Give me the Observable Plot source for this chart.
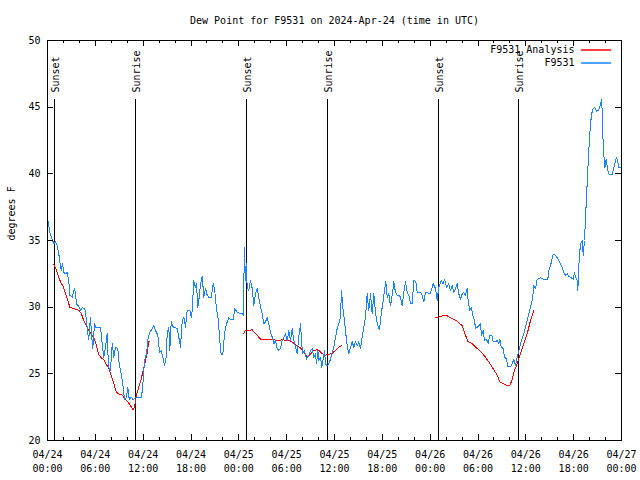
<!DOCTYPE html>
<html><head><meta charset="utf-8">
<script src="https://cdn.jsdelivr.net/npm/d3@7"></script>
<script src="https://cdn.jsdelivr.net/npm/@observablehq/plot@0.6"></script>
<style>body{margin:0;background:#fff} svg{display:block}</style>
</head><body><div id="chart"></div>
<script>
const title = "Dew Point for F9531 on 2024-Apr-24 (time in UTC)";
const yLabel = "degrees F";
const startTime = "2024-04-24T00:00:00Z";
const endTime = "2024-04-27T00:00:00Z";
const yTicks = [20, 25, 30, 35, 40, 45, 50];
const seriesNames = ["F9531 Analysis", "F9531"];
const seriesColors = ["#ff0000", "#1685ff"];
const sunLabels = ["Sunset", "Sunrise", "Sunset", "Sunrise", "Sunset", "Sunrise"];
const sunHours = [0.92, 11.08, 24.96, 35.16, 49.08, 59.12];

// F9531 observations: hours since start, dew point (F)
const obsHours = [0.04,0.29,0.59,0.79,1.0,1.22,1.42,1.54,1.72,1.88,2.04,2.26,2.47,2.67,2.8,3.1,3.3,3.42,3.64,3.93,4.14,4.35,4.68,4.89,5.06,5.18,5.39,5.52,5.68,5.9,6.06,6.65,6.86,7.06,7.28,7.49,7.65,7.9,8.12,8.32,8.53,8.82,8.99,9.24,9.5,9.66,9.91,10.07,10.25,10.5,10.75,11.04,11.79,12.0,12.17,12.42,12.63,12.83,13.13,13.33,13.55,13.84,14.05,14.26,14.46,14.68,14.89,15.01,15.22,15.34,15.52,15.77,16.27,16.47,16.68,16.9,17.1,17.31,17.52,17.85,18.03,18.15,18.35,18.53,18.69,18.85,19.03,19.19,19.41,19.61,19.82,20.03,20.23,20.53,20.79,20.95,21.2,21.41,21.61,21.79,21.99,22.2,22.45,22.74,22.95,23.29,23.49,23.8,24.12,24.42,24.55,24.71,24.8,24.92,25.05,25.25,25.46,25.68,25.88,26.09,26.3,26.5,26.72,26.93,27.13,27.35,27.56,27.76,27.97,28.19,28.39,28.6,28.81,29.01,29.23,29.44,29.64,29.85,30.07,30.27,30.48,30.69,30.9,31.11,31.32,31.52,31.74,31.86,31.99,32.24,32.49,32.78,32.99,33.2,33.4,33.62,33.74,33.91,34.03,34.24,34.41,34.58,34.75,34.87,35.09,35.29,35.5,35.71,35.91,36.13,36.34,36.54,36.75,36.88,37.04,37.25,37.42,37.59,37.79,38.01,38.22,38.42,38.63,38.85,39.05,39.26,39.47,39.68,39.89,40.1,40.3,40.52,40.73,40.93,41.14,41.36,41.64,41.86,42.11,42.27,42.44,42.61,42.81,43.02,43.24,43.44,43.65,43.87,44.07,44.28,44.49,44.69,44.91,45.12,45.32,45.53,45.75,45.95,46.2,46.37,46.79,47.0,47.2,47.42,47.83,48.04,48.38,48.67,48.88,49.08,49.38,49.63,49.8,50.05,50.34,50.55,50.76,50.96,51.18,51.39,51.59,51.8,52.02,52.22,52.43,52.65,52.77,52.97,53.15,53.35,53.56,53.69,53.9,54.1,54.31,54.44,54.65,54.82,55.07,55.28,55.48,55.73,55.91,56.16,56.41,56.61,56.74,56.91,57.16,57.33,57.58,57.74,58.08,58.29,58.49,58.7,58.92,59.12,59.33,59.75,60.17,60.59,60.84,61.0,61.21,61.43,61.84,62.25,62.76,62.88,63.09,63.43,63.72,64.14,64.35,64.56,64.76,64.98,65.19,65.39,65.6,65.94,66.11,66.23,66.44,66.52,66.69,66.86,67.07,67.2,67.36,67.49,67.61,67.77,67.99,68.2,68.36,68.61,68.86,69.15,69.37,69.53,69.62,69.78,69.91,70.08,70.28,70.46,70.83,71.04,71.25,71.37,71.54,71.67,72.0];
const obsValues = [36.55,35.6,35.1,34.75,34.9,34.6,34.0,33.4,32.75,33.3,32.6,32.5,32.6,32.0,30.9,30.75,31.25,31.4,30.25,30.05,29.75,29.95,29.9,29.0,28.0,27.6,29.25,28.0,26.9,28.75,28.5,28.5,27.25,26.25,27.0,28.0,25.5,25.25,27.25,26.25,27.0,26.9,25.75,25.0,24.0,23.05,23.25,24.0,23.1,23.25,23.05,23.25,23.2,24.5,26.0,26.5,27.75,28.1,28.4,28.6,28.25,27.9,26.6,26.75,26.25,25.6,26.25,28.0,28.5,26.75,28.9,28.5,28.4,27.75,27.0,29.0,29.25,28.5,29.75,29.75,29.25,29.75,32.0,31.5,31.75,30.0,30.75,31.75,32.3,30.75,31.4,30.9,30.75,30.75,31.75,31.4,29.9,29.1,27.5,26.45,26.45,28.0,28.75,29.2,29.05,29.1,29.9,29.6,29.55,29.55,29.4,34.5,32.0,33.25,31.5,31.25,32.0,31.4,30.1,31.0,31.4,30.75,30.0,29.5,28.75,28.9,29.25,28.75,28.1,27.75,27.25,27.5,26.9,26.75,26.9,27.5,27.75,28.0,27.5,28.25,27.5,28.4,27.5,27.0,26.5,27.75,28.75,27.5,26.5,26.75,26.1,26.4,26.75,26.9,26.25,26.5,25.75,26.75,26.0,26.25,25.5,26.1,26.75,25.75,25.6,25.75,26.1,26.6,27.0,27.75,28.4,28.75,29.25,31.25,30.0,29.0,28.0,27.1,26.5,27.0,27.4,27.0,27.4,27.1,27.4,26.9,27.75,28.5,29.25,31.0,29.75,31.0,29.5,31.0,29.6,28.75,28.3,29.5,30.5,31.25,31.9,30.75,31.0,30.1,30.9,31.9,31.1,30.9,30.9,30.75,30.1,31.1,31.9,31.1,30.9,30.25,30.25,32.0,31.95,31.1,31.1,30.9,30.4,31.1,31.05,31.05,31.75,31.4,30.5,31.5,32.0,31.75,32.1,31.5,31.75,31.25,31.6,31.1,31.4,31.75,31.0,30.6,31.0,31.1,30.9,31.4,30.4,29.75,30.0,29.4,29.0,28.4,28.5,28.6,28.75,27.9,28.25,27.5,27.6,27.25,27.9,27.9,27.4,27.4,27.5,27.25,27.6,27.0,26.9,26.25,26.1,25.55,25.55,25.75,26.1,25.6,26.25,26.75,27.25,28.0,29.0,30.0,30.6,31.6,31.4,32.1,32.2,32.1,32.1,32.75,33.1,33.95,33.9,33.5,33.25,33.0,32.6,32.4,32.5,32.3,32.25,32.1,32.6,32.25,32.0,31.25,33.6,34.75,35.0,33.9,35.0,36.75,38.25,40.25,42.75,44.25,44.8,45.0,44.7,44.8,45.25,45.6,43.25,41.5,40.45,41.1,40.25,39.95,39.95,40.5,40.9,41.25,40.9,40.5,40.45];

// F9531 Analysis: hours since start, dew point (F); null marks a gap
const anaHours = [0.79,1.13,1.42,1.72,1.97,2.26,2.55,2.8,3.3,3.93,4.23,4.48,4.77,5.06,5.39,5.81,6.15,6.43,6.74,7.06,7.4,7.69,7.99,8.32,8.66,8.94,9.37,9.78,10.07,10.41,10.75,10.95,11.16,11.45,11.75,12.0,12.29,12.51,12.71,12.83,13.0,24.62,24.84,25.25,25.68,25.97,26.3,26.72,27.13,27.56,28.19,28.81,29.44,30.27,30.9,31.32,31.74,32.15,32.58,32.99,33.4,33.83,34.16,34.46,34.87,35.29,35.71,36.13,36.54,36.88,37.0,48.67,49.08,49.71,50.14,50.55,50.96,51.39,52.02,52.22,52.43,52.72,53.27,53.9,54.53,54.94,55.57,55.98,56.41,56.74,57.24,57.66,57.99,58.29,58.58,58.92,59.33,59.75,60.17,60.59,61.0];
const anaValues = [33.2,32.75,32.2,31.8,31.55,31.0,30.5,30.0,29.9,29.75,29.55,29.1,28.75,28.4,28.05,27.7,27.1,26.45,26.2,26.05,25.7,25.4,24.9,24.25,23.6,23.5,23.4,23.1,22.9,22.6,22.3,22.6,23.4,24.0,24.6,25.25,26.0,26.6,27.4,27.45,null,28.05,28.25,28.25,28.3,28.1,27.9,27.6,27.55,27.6,27.6,27.5,27.55,27.5,27.3,27.1,26.95,26.6,26.25,26.5,26.75,26.8,26.7,26.5,26.4,26.45,26.55,26.75,27.0,27.1,null,29.2,29.25,29.4,29.35,29.2,29.1,28.95,28.6,28.25,27.9,27.45,27.25,26.9,26.55,26.25,25.7,25.3,24.9,24.4,24.25,24.1,24.1,24.6,25.25,25.75,26.5,27.25,28.0,29.0,29.75];

const t0 = new Date(startTime), t1 = new Date(endTime);
const at = h => new Date(t0.getTime() + h * 3600e3);
const obs = obsHours.map((h, i) => ({t: at(h), v: obsValues[i]}));
const ana = anaHours.map((h, i) => ({t: at(h), v: anaValues[i]}));
const sun = sunHours.map((h, i) => ({t: at(h), label: sunLabels[i]}));

const W = 640, H = 480, mL = 47, mR = 19, mT = 40, mB = 40;
const iW = W - mL - mR, iH = H - mT - mB;
const majorX = d3.utcHour.every(6).range(t0, new Date(+t1 + 1));
const minorX = d3.utcHour.every(2).range(t0, new Date(+t1 + 1)).filter(d => d.getUTCHours() % 6 !== 0);
const font = "'DejaVu Sans Mono', monospace";
const lineShape = {draw(context, l) { context.moveTo(0, 0); context.lineTo(0, -l); }};

const chart = Plot.plot({
  width: W, height: H, marginLeft: mL, marginRight: mR, marginTop: mT, marginBottom: mB,
  style: {fontFamily: font, fontSize: "10px", background: "#fff", color: "#000"},
  x: {type: "utc", domain: [t0, t1]},
  y: {domain: [20, 50]},
  marks: [
    // sunrise / sunset markers
    Plot.ruleX(sun, {x: "t", insetTop: 59, stroke: "#000", shapeRendering: "crispEdges"}),
    Plot.text(sun, {x: "t", frameAnchor: "top", dy: 52, dx: 1, rotate: -90, textAnchor: "start", lineAnchor: "middle", text: "label", fill: "#000"}),
    // data
    Plot.line(ana, {x: "t", y: "v", stroke: seriesColors[0], strokeWidth: 1, shapeRendering: "crispEdges"}),
    Plot.line(obs, {x: "t", y: "v", stroke: seriesColors[1], strokeWidth: 1, shapeRendering: "crispEdges"}),
    // ticks (inward)
    Plot.tickX(majorX, {x: d => d, insetTop: iH - 6, stroke: "#000", shapeRendering: "crispEdges"}),
    Plot.tickX(majorX, {x: d => d, insetBottom: iH - 6, stroke: "#000", shapeRendering: "crispEdges"}),
    Plot.tickX(minorX, {x: d => d, insetTop: iH - 3, stroke: "#000", shapeRendering: "crispEdges"}),
    Plot.tickX(minorX, {x: d => d, insetBottom: iH - 3, stroke: "#000", shapeRendering: "crispEdges"}),
    Plot.tickY(yTicks, {y: d => d, insetRight: iW - 6, stroke: "#000", shapeRendering: "crispEdges"}),
    Plot.tickY(yTicks, {y: d => d, insetLeft: iW - 6, stroke: "#000", shapeRendering: "crispEdges"}),
    Plot.frame({stroke: "#000", shapeRendering: "crispEdges"}),
    // axes labels
    Plot.axisX(majorX, {anchor: "bottom", tickSize: 0, tickPadding: 8, tickFormat: d3.utcFormat("%m/%d\n%H:%M"), lineHeight: 1.4, label: null, fill: "#000"}),
    Plot.axisY(yTicks, {anchor: "left", tickSize: 0, tickPadding: 7, label: null, fill: "#000"}),
    Plot.text([yLabel], {frameAnchor: "left", dx: -36, rotate: -90, fill: "#000"}),
    Plot.text([title], {frameAnchor: "top", dy: -20, lineAnchor: "middle", fill: "#000"}),
    // legend
    Plot.text([seriesNames[0]], {frameAnchor: "top-right", dx: -47, dy: 9, textAnchor: "end", lineAnchor: "middle", fill: "#000"}),
    Plot.text([seriesNames[1]], {frameAnchor: "top-right", dx: -47, dy: 22, textAnchor: "end", lineAnchor: "middle", fill: "#000"}),
    Plot.vector([0], {frameAnchor: "top-right", dx: -40, dy: 9.5, length: 29, rotate: 90, anchor: "start", shape: lineShape, stroke: seriesColors[0]}),
    Plot.vector([0], {frameAnchor: "top-right", dx: -40, dy: 22.5, length: 29, rotate: 90, anchor: "start", shape: lineShape, stroke: seriesColors[1]})
  ]
});
document.getElementById("chart").append(chart);
</script>
</body></html>
